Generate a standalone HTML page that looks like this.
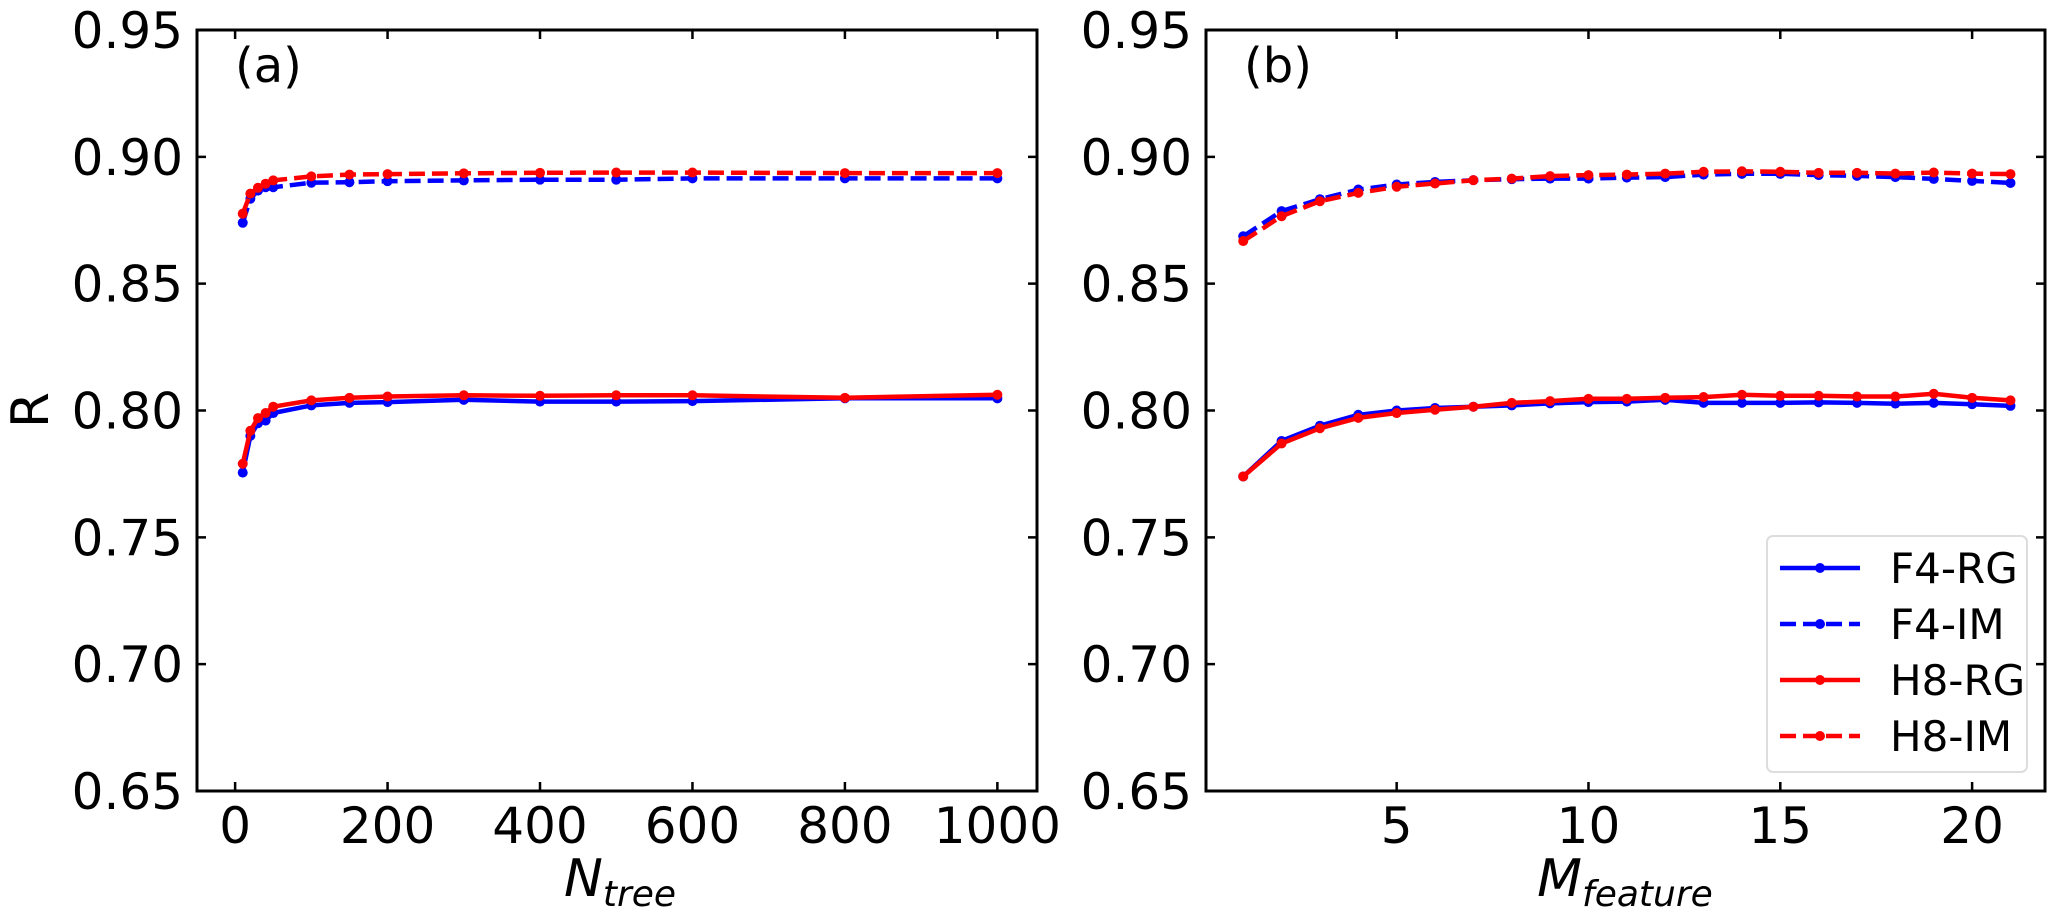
<!DOCTYPE html>
<html><head><meta charset="utf-8"><style>
body{margin:0;background:#fff;}
svg{display:block;font-family:"DejaVu Sans","Liberation Sans",sans-serif;}
</style></head><body>
<svg id="fig" width="2067" height="918" viewBox="0 0 2067 918" xmlns="http://www.w3.org/2000/svg"></svg>
<script>
const xA = [10,20,30,40,50,100,150,200,300,400,500,600,800,1000];
const aF4RG = [0.7755,0.790,0.795,0.796,0.799,0.802,0.803,0.8033,0.8042,0.8035,0.8035,0.8037,0.8048,0.8048];
const aF4IM = [0.874,0.8835,0.8867,0.888,0.888,0.8898,0.890,0.8904,0.8907,0.891,0.891,0.8915,0.8915,0.8915];
const aH8RG = [0.779,0.792,0.797,0.799,0.8015,0.804,0.805,0.8055,0.806,0.8058,0.806,0.806,0.805,0.8062];
const aH8IM = [0.8776,0.8855,0.8878,0.8894,0.8907,0.8923,0.893,0.8932,0.8935,0.8937,0.8938,0.8938,0.8936,0.8936];
const xB = [1,2,3,4,5,6,7,8,9,10,11,12,13,14,15,16,17,18,19,20,21];
const bF4RG = [0.774,0.788,0.794,0.7983,0.800,0.801,0.8015,0.802,0.8028,0.8033,0.8035,0.8042,0.803,0.803,0.803,0.8032,0.803,0.8027,0.803,0.8025,0.8018];
const bF4IM = [0.8687,0.8786,0.8833,0.8871,0.8891,0.8901,0.8908,0.8912,0.8914,0.8914,0.8918,0.892,0.893,0.8933,0.8933,0.8928,0.8925,0.892,0.8913,0.8905,0.8897];
const bH8RG = [0.774,0.787,0.793,0.7971,0.799,0.8003,0.8015,0.803,0.8037,0.8046,0.8046,0.805,0.8053,0.8062,0.8058,0.8058,0.8055,0.8055,0.8066,0.805,0.804];
const bH8IM = [0.8668,0.8766,0.8825,0.8858,0.8882,0.8895,0.8908,0.8914,0.8924,0.8928,0.893,0.8934,0.8941,0.8943,0.8941,0.8937,0.8937,0.8934,0.8938,0.8934,0.8932];
const yTicks = [0.65,0.70,0.75,0.80,0.85,0.90,0.95];
const yTickLabels = ["0.65","0.70","0.75","0.80","0.85","0.90","0.95"];
const xTicksA = [0,200,400,600,800,1000];
const xTicksB = [5,10,15,20];
const legendLabels = ["F4-RG","F4-IM","H8-RG","H8-IM"];

const NS="http://www.w3.org/2000/svg";
const svg=document.getElementById('fig');
function el(tag,attrs,parent){const e=document.createElementNS(NS,tag);for(const k in attrs)e.setAttribute(k,attrs[k]);(parent||svg).appendChild(e);return e;}
const plotTop=30,plotBottom=791;
function yS(v){return plotBottom+(v-0.65)/(0.95-0.65)*(plotTop-plotBottom);}

function panel(name,left,right,xmin,xmax,xt,label,sub,lx,xs,series){
  const g=el('g',{});
  
  
  const xS=v=>left+(v-xmin)/(xmax-xmin)*(right-left);
  yTicks.forEach((t,i)=>{
    const y=yS(t);
    const tk=el('path',{d:`M${left},${y}h9M${right},${y}h-9`,stroke:'#000','stroke-width':2.5},g);
    
    
    const tx=el('text',{x:left-14,y:y+18,'text-anchor':'end','font-size':50},g);
    
    
    tx.textContent=yTickLabels[i];
  });
  xt.forEach(t=>{
    const x=xS(t);
    const tk=el('path',{d:`M${x},${plotBottom}v-9M${x},${plotTop}v9`,stroke:'#000','stroke-width':2.5},g);
    
    
    const tx=el('text',{x:x,y:843,'text-anchor':'middle','font-size':50},g);
    
    
    tx.textContent=String(t);
  });
  const colors=['#0000ff','#0000ff','#ff0000','#ff0000'];
  const dashed=[false,true,false,true];
  series.forEach((s,k)=>{
    const pts=xs.map((x,i)=>xS(x).toFixed(1)+','+yS(s[i]).toFixed(1)).join(' ');
    const pl=el('polyline',{points:pts,fill:'none',stroke:colors[k],'stroke-width':4.5,'stroke-linejoin':'round','stroke-dasharray':dashed[k]?'16 7':'none'},g);
    
    
    xs.forEach((x,i)=>{
      const c=el('circle',{cx:xS(x),cy:yS(s[i]),r:5,fill:colors[k]},g);
      
      
    });
  });
  const fr=el('rect',{x:left,y:plotTop,width:right-left,height:plotBottom-plotTop,fill:'none',stroke:'#000','stroke-width':3},g);
  
  
  const pl=el('text',{x:left+38,y:82,'font-size':48},g);
  
  
  pl.textContent=label;
  const xl=el('text',{x:lx,y:896,'text-anchor':'middle','font-size':52,'font-style':'italic'},g);
  
  
  const t1=el('tspan',{},xl);t1.textContent=sub[0];
  const t2=el('tspan',{'font-size':36,dy:10},xl);t2.textContent=sub[1];
}
panel('panel-a',197,1037,-50,1052,xTicksA,'(a)',['N','tree'],620,xA,[aF4RG,aF4IM,aH8RG,aH8IM]);
panel('panel-b',1206,2045,0.03,21.9,xTicksB,'(b)',['M','feature'],1625,xB,[bF4RG,bF4IM,bH8RG,bH8IM]);

const yl=el('text',{x:0,y:0,'font-size':52,'text-anchor':'middle',transform:'translate(48,410) rotate(-90)'});


yl.textContent='R';

const lg=el('g',{});


const lb=el('rect',{x:1767,y:536,width:260,height:236,rx:6,fill:'#fff',stroke:'#ddd','stroke-width':2},lg);


const lc=['#0000ff','#0000ff','#ff0000','#ff0000'];
legendLabels.forEach((name,i)=>{
  const y=568+i*56;
  const e=el('g',{},lg);
  
  
  el('line',{x1:1780,x2:1860,y1:y,y2:y,stroke:lc[i],'stroke-width':4.5,'stroke-dasharray':i%2?'16 7':'none'},e);
  el('circle',{cx:1820,cy:y,r:5,fill:lc[i]},e);
  const t=el('text',{x:1890,y:y+15,'font-size':42},e);
  t.textContent=name;
});
</script>
</body></html>
